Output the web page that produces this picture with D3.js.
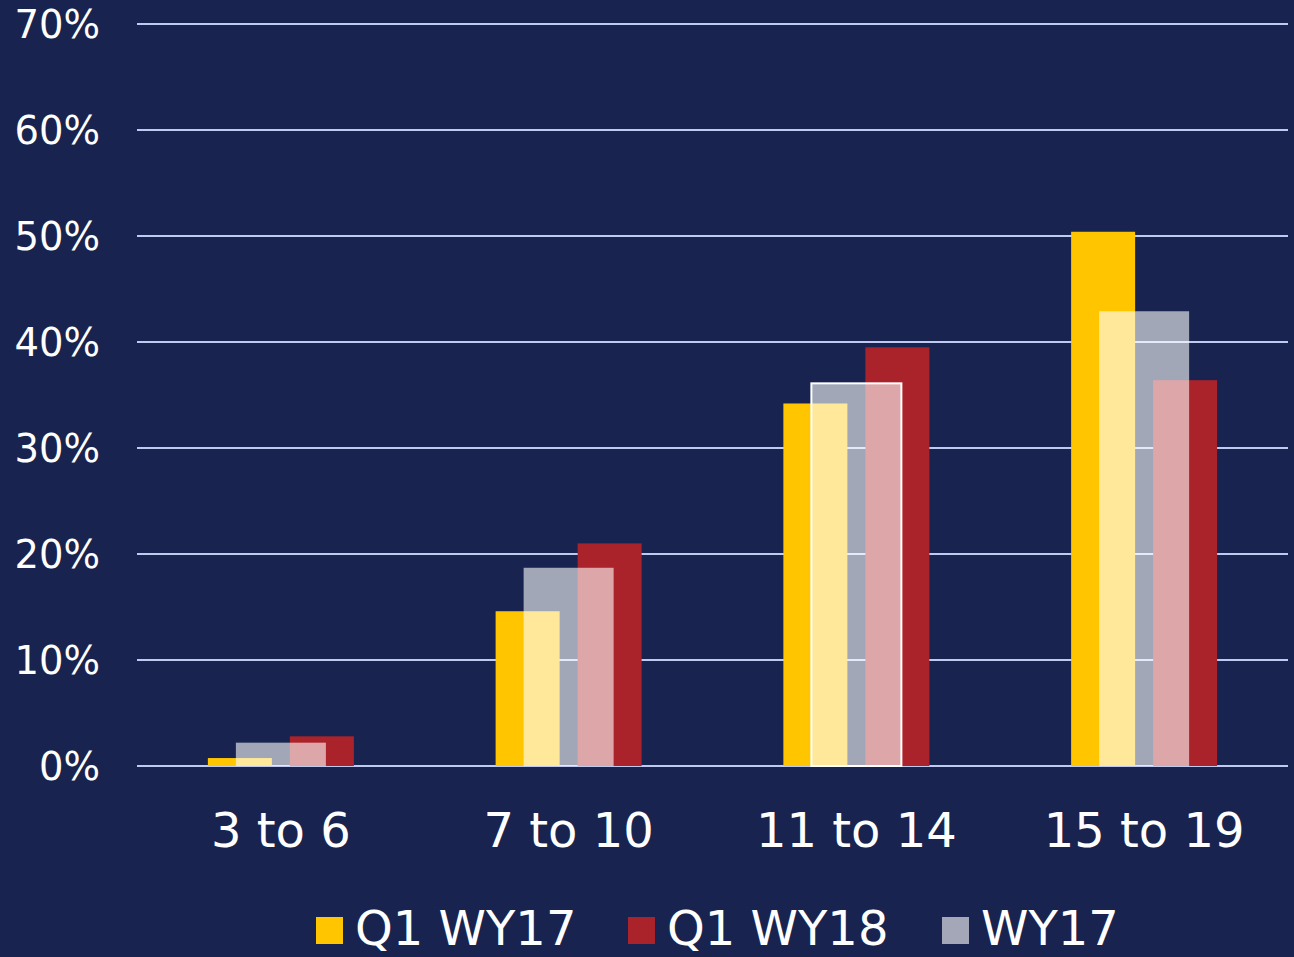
<!DOCTYPE html>
<html><head><meta charset="utf-8">
<script src="https://cdn.jsdelivr.net/npm/d3@7"></script>
<style>html,body{margin:0;padding:0;background:#18244F;}svg{display:block;}</style>
</head><body>
<svg id="c" width="1294" height="957"></svg>
<script>
const categories = ["3 to 6", "7 to 10", "11 to 14", "15 to 19"];
const q1wy17 = [0.0075, 0.146, 0.342, 0.504];
const q1wy18 = [0.028, 0.210, 0.395, 0.364];
const wy17 = [0.022, 0.187, 0.361, 0.429];
const seriesNames = ["Q1 WY17", "Q1 WY18", "WY17"];
const yTicks = [0, 0.1, 0.2, 0.3, 0.4, 0.5, 0.6, 0.7];

const BG = "#18244F", YEL = "#FFC600", RED = "#AA232A", GREY = "#A3A7B8", GRID = "#C0C9F0";
const svg = d3.select("#c");
svg.append("rect").attr("width", 1294).attr("height", 957).attr("fill", BG);

const x0 = d3.scaleBand().domain(categories).range([137, 1288]).paddingInner(0.4926).paddingOuter(0.2463);
const x1 = d3.scaleBand().domain(["Q1 WY17", "Q1 WY18"]).range([0, x0.bandwidth()]).paddingInner(0.2195);
const y = d3.scaleLinear().domain([0, 0.7]).range([766, 24]);
const greyW = x0.bandwidth() * 90 / 146;

// gridlines
svg.append("g").selectAll("line").data(yTicks).join("line")
  .attr("x1", 137).attr("x2", 1288)
  .attr("y1", d => y(d)).attr("y2", d => y(d))
  .attr("stroke", GRID).attr("stroke-width", 2);

// y tick labels
svg.append("g").selectAll("text").data(yTicks).join("text")
  .attr("x", 100).attr("y", d => y(d)).attr("dy", "0.36em")
  .attr("text-anchor", "end").attr("fill", "#fff")
  .attr("font-family", "DejaVu Sans").attr("font-size", 38.5)
  .text(d => d3.format(".0%")(d));

const g = svg.append("g");
// Q1 WY17
g.selectAll("rect.a").data(categories).join("rect").attr("class", "a")
  .attr("x", d => x0(d) + x1("Q1 WY17")).attr("width", x1.bandwidth())
  .attr("y", (d, i) => y(q1wy17[i])).attr("height", (d, i) => y(0) - y(q1wy17[i]))
  .attr("fill", YEL);
// Q1 WY18
g.selectAll("rect.b").data(categories).join("rect").attr("class", "b")
  .attr("x", d => x0(d) + x1("Q1 WY18")).attr("width", x1.bandwidth())
  .attr("y", (d, i) => y(q1wy18[i])).attr("height", (d, i) => y(0) - y(q1wy18[i]))
  .attr("fill", RED);
// WY17 translucent overlay
g.selectAll("rect.c").data(categories).join("rect").attr("class", "c")
  .attr("x", d => x0(d) + x0.bandwidth() / 2 - greyW / 2).attr("width", greyW)
  .attr("y", (d, i) => y(wy17[i])).attr("height", (d, i) => y(0) - y(wy17[i]))
  .attr("fill", "#fff").attr("fill-opacity", 0.6)
  .attr("stroke", (d, i) => i === 2 ? "#fff" : "none").attr("stroke-width", 2);

// category labels
svg.append("g").selectAll("text").data(categories).join("text")
  .attr("x", d => x0(d) + x0.bandwidth() / 2).attr("y", 847)
  .attr("text-anchor", "middle").attr("fill", "#fff")
  .attr("font-family", "DejaVu Sans").attr("font-size", 48)
  .text(d => d);

// legend
const legendX = [316, 628, 942];
const legendCol = [YEL, RED, GREY];
const lg = svg.append("g");
seriesNames.forEach((n, i) => {
  lg.append("rect").attr("x", legendX[i]).attr("y", 917).attr("width", 27).attr("height", 27).attr("fill", legendCol[i]);
  lg.append("text").attr("x", legendX[i] + 39).attr("y", 945).attr("fill", "#fff")
    .attr("font-family", "DejaVu Sans").attr("font-size", 48).text(n);
});
</script>
</body></html>
